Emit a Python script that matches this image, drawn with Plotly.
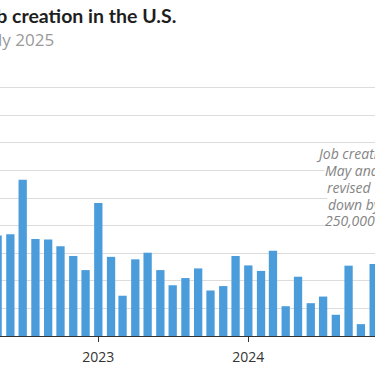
import plotly.graph_objects as go

# ---- data (monthly job gains, thousands) ----
months = [
    "2022-05-01", "2022-06-01", "2022-07-01", "2022-08-01", "2022-09-01", "2022-10-01",
    "2022-11-01", "2022-12-01", "2023-01-01", "2023-02-01", "2023-03-01", "2023-04-01",
    "2023-05-01", "2023-06-01", "2023-07-01", "2023-08-01", "2023-09-01", "2023-10-01",
    "2023-11-01", "2023-12-01", "2024-01-01", "2024-02-01", "2024-03-01", "2024-04-01",
    "2024-05-01", "2024-06-01", "2024-07-01", "2024-08-01", "2024-09-01", "2024-10-01",
    "2024-11-01",
]
jobs_k = [
    364, 369, 567, 352, 350, 325,
    290, 239, 482, 287, 146, 278,
    302, 239, 184, 210, 245, 165,
    181, 290, 256, 236, 309, 108,
    215, 119, 143, 77, 255, 43,
    261,
]
title_text = "Job creation in the U.S."
subtitle_text = "Monthly job gains through July 2025"
note_lines = ["Job creation in", "May and June", "revised", "down by", "250,000"]

W, H = 375, 366
M_T, M_B = 74, 25
PLOT_H = H - M_T - M_B
FONT = "Open Sans"
TITLE_FONT = "Lato"


def py(px):
    return (H - M_B - px) / PLOT_H


def pxx(px):
    return px / W


fig = go.Figure(
    go.Bar(
        x=months,
        y=jobs_k,
        marker=dict(color="#4b9cdb", line=dict(width=0)),
        width=20.2 * 86400000,
        hoverinfo="x+y",
    )
)

annotations = [
    dict(text="<b>" + title_text + "</b>", xref="paper", yref="paper",
         x=pxx(177.7), y=py(14.6), xanchor="right", yanchor="middle",
         showarrow=False, font=dict(family=TITLE_FONT, size=19.5, color="#1e1e1e")),
    dict(text=subtitle_text, xref="paper", yref="paper",
         x=pxx(56), y=py(38.4), xanchor="right", yanchor="middle",
         showarrow=False, font=dict(family=FONT, size=17, color="#9a9a9a")),
]
note_starts = [317.3, 326.0, 327.7, 329.3, 326.0]
note_centers = [155.3, 172.6, 189.3, 206.6, 223.3]
# draw from the bottom line upward so each line's descenders stay visible
for line, sx, cy in reversed(list(zip(note_lines, note_starts, note_centers))):
    annotations.append(dict(
        text="<i>" + line + "</i>", xref="paper", yref="paper",
        x=pxx(sx - 2), y=py(cy), xanchor="left", yanchor="middle",
        showarrow=False, bgcolor="white", borderpad=0,
        font=dict(family=FONT, size=14, color="#858585")))

fig.update_layout(
    width=W, height=H, autosize=False,
    margin=dict(l=0, r=0, t=M_T, b=M_B, pad=0),
    paper_bgcolor="white", plot_bgcolor="white",
    showlegend=False,
    annotations=annotations,
    font=dict(family=FONT),
    xaxis=dict(
        type="date",
        range=["2022-05-06 19:00", "2024-11-04 07:00"],
        tick0="2022-01-01", dtick="M12", tickformat="%Y",
        ticks="outside", ticklen=5, tickwidth=1, tickcolor="#333333",
        showline=True, linecolor="#333333", linewidth=1,
        showgrid=False, zeroline=False,
        ticklabelstandoff=3,
        tickfont=dict(family=FONT, size=14, color="#333333"),
    ),
    yaxis=dict(
        range=[0, 950], dtick=100, tick0=0,
        showgrid=True, gridcolor="#dcdcdc", gridwidth=1,
        zeroline=False, showticklabels=False, showline=False, ticks="",
    ),
)

fig.write_html(
    "out.html",
    config={"displayModeBar": False},
    post_script="document.body.style.margin='0';document.body.style.overflow='hidden';",
)
